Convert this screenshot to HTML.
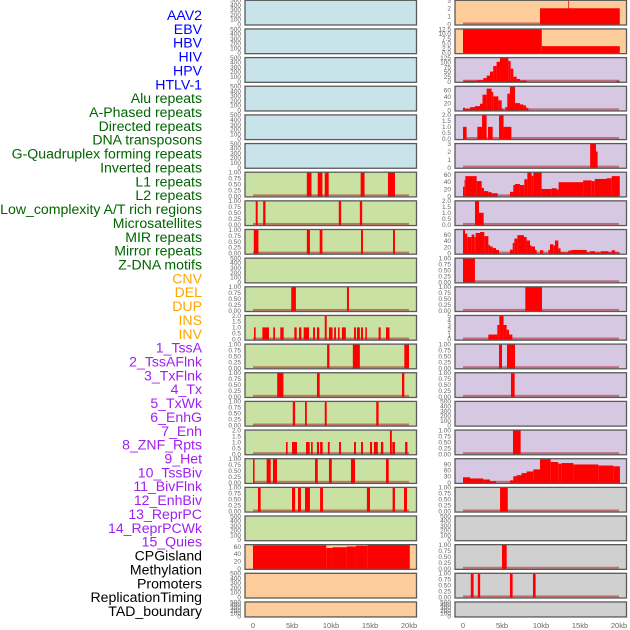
<!DOCTYPE html>
<html><head><meta charset="utf-8"><style>
html,body{margin:0;padding:0;background:#fff;}
svg{display:block;font-family:"Liberation Sans",sans-serif;}
</style></head><body>
<svg id="chart" width="630" height="630" viewBox="0 0 630 630" xmlns="http://www.w3.org/2000/svg"></svg>
<script>
// ---- labels ----
const trackLabels = ["AAV2","EBV","HBV","HIV","HPV","HTLV-1","Alu repeats","A-Phased repeats","Directed repeats","DNA transposons","G-Quadruplex forming repeats","Inverted repeats","L1 repeats","L2 repeats","Low_complexity A/T rich regions","Microsatellites","MIR repeats","Mirror repeats","Z-DNA motifs","CNV","DEL","DUP","INS","INV","1_TssA","2_TssAFlnk","3_TxFlnk","4_Tx","5_TxWk","6_EnhG","7_Enh","8_ZNF_Rpts","9_Het","10_TssBiv","11_BivFlnk","12_EnhBiv","13_ReprPC","14_ReprPCWk","15_Quies","CPGisland","Methylation","Promoters","ReplicationTiming","TAD_boundary"];
const labelColors = ["#0000ff","#0000ff","#0000ff","#0000ff","#0000ff","#0000ff","#006400","#006400","#006400","#006400","#006400","#006400","#006400","#006400","#006400","#006400","#006400","#006400","#006400","#ffa500","#ffa500","#ffa500","#ffa500","#ffa500","#a020f0","#a020f0","#a020f0","#a020f0","#a020f0","#a020f0","#a020f0","#a020f0","#a020f0","#a020f0","#a020f0","#a020f0","#a020f0","#a020f0","#a020f0","#000","#000","#000","#000","#000"];
const xTickValues = [0,5,10,15,20];
const xTickLabels = ["0","5kb","10kb","15kb","20kb"];

// ---- left column series: [startKb, endKb, value] ----
const leftL1 = [[6.9,7.5,1],[8.3,8.9,1],[9.2,9.7,1],[13.8,14.3,1],[17.3,18.2,1]];
const leftLowComplexity = [[0.35,0.6,1],[1.3,1.6,1],[11.0,11.3,1],[13.7,14.0,1]];
const leftMIR = [[0.1,0.7,1],[6.9,7.3,1],[8.55,8.9,1],[13.85,14.1,1],[17.95,18.2,1]];
const leftDEL = [[4.9,5.5,1],[12.05,12.3,1]];
const leftINS = [[0.13,0.34,1],[1.2,2.05,1],[2.6,2.82,1],[3.5,3.93,1],[5.3,5.6,1],[5.9,6.2,1],[6.5,7.18,1],[7.7,7.95,1],[8.2,8.5,1],[9.2,9.45,2],[9.74,10.2,1],[10.4,10.64,1],[10.9,11.1,1],[11.4,11.9,1],[12.95,13.2,1],[13.33,13.7,1],[13.85,14.1,1],[14.4,14.6,1],[16.1,16.37,1],[17.05,17.5,1]];
const leftTssA = [[9.5,9.8,1],[12.8,13.7,1],[19.4,20.0,1]];
const leftTxFlnk = [[3.1,3.9,1],[8.2,8.55,1],[19.1,19.4,1]];
const leftTxWk = [[5.1,5.4,1],[6.67,6.9,1],[9.2,9.45,1],[15.8,16.1,1]];
const leftEnh = [[4.23,4.44,1],[5.0,5.64,1],[6.8,7.27,1],[7.44,7.65,1],[8.2,8.46,1],[8.6,8.93,1],[9.6,9.83,1],[11.03,11.28,1],[12.95,13.2,1],[13.85,14.1,1],[15.0,15.26,1],[15.5,16.0,1],[16.4,16.7,1],[17.56,17.8,2],[17.86,18.2,1],[19.5,19.8,1]];
const leftHet = [[0,0.2,1],[1.75,2.27,1],[2.56,3.08,1],[7.95,8.3,1],[9.74,10.1,1],[12.56,13.08,1],[17.05,17.4,1]];
const leftBivFlnk = [[0.64,0.98,1],[5.0,5.4,1],[5.77,6.15,1],[6.67,7.3,1],[8.6,8.97,1],[14.6,15.0,1],[17.9,18.2,1],[19.36,19.74,1]];
const leftCpG = [[0,9.4,63],[9.4,10.2,56],[10.2,12,58],[12,13.2,60],[13.2,14.7,62],[14.7,20.1,65]];

// ---- right column series ----
const rightEBV = [[9.87,20.1,2],[13.5,13.6,3]];
const rightHIV = [[0,10.1,12.5],[10.1,20.1,3.5]];
const rightHTLV = [[0.05,1.75,4],[1.75,2.6,7],[2.6,3.03,18],[3.03,3.46,31],[3.46,3.88,52],[3.88,4.31,81],[4.31,4.74,103],[4.74,5.81,125],[5.81,6.11,107],[6.11,6.45,67],[6.45,6.88,25],[6.88,7.3,13],[7.3,8.16,5],[19.7,20.1,4]];
const rightAPhased = [[0,0.26,7],[0.26,0.9,4],[0.9,1.54,9],[1.54,2.18,12],[2.18,2.5,19],[2.5,3.03,46],[3.03,3.67,64],[3.67,3.88,54],[3.88,4.53,41],[4.53,4.96,29],[4.96,5.17,4],[5.43,5.68,9],[5.68,6.02,49],[6.02,6.67,71],[6.67,7.3,21],[7.3,7.73,17],[7.73,8.08,14],[8.08,8.38,7]];
const rightDNAtransposons = [[0,0.46,1],[1.84,2.44,1],[2.44,3.03,2],[3.2,3.8,1],[4.62,5.2,2],[5.2,6.2,1]];
const rightInverted = [[16.3,17.05,3],[17.05,17.26,2]];
const rightL2 = [[0,0.2,26],[0.2,0.3,45],[0.3,1.75,56],[1.75,2.4,42],[2.4,2.69,23],[2.69,3.25,14],[3.25,3.67,11],[3.67,4.44,8],[6.02,6.45,12],[6.45,6.67,31],[6.67,7.3,34],[7.3,7.86,31],[7.86,8.25,47],[8.25,8.8,67],[8.8,9.02,57],[9.02,10.08,67],[10.08,11.37,20],[11.37,12.0,22],[12.0,12.26,19],[12.26,15.4,39],[15.4,16.5,44],[16.5,16.9,42],[16.9,18.4,48],[18.4,19.06,50],[19.06,20.1,56]];
const rightMicrosat = [[1.54,2.05,2],[2.05,2.65,1]];
const rightMirror = [[0,0.26,76],[0.26,0.55,63],[0.55,1.11,52],[1.11,1.45,60],[1.45,1.62,52],[1.62,2.18,65],[2.18,2.73,68],[2.73,3.25,55],[3.25,3.46,27],[3.46,3.8,22],[3.8,4.23,17],[4.23,4.62,11],[6.02,6.37,12],[6.37,6.58,33],[6.58,6.97,47],[6.97,7.82,58],[7.82,8.16,52],[8.16,8.59,41],[8.59,8.8,25],[8.8,9.23,22],[9.23,9.44,11],[9.87,10.3,10],[10.94,11.15,11],[11.15,11.58,29],[11.58,11.79,25],[11.79,12.22,41],[12.22,12.51,16],[12.51,13.5,3],[13.5,13.93,9],[13.93,15.85,11],[15.85,16.28,3],[16.28,16.92,7],[16.92,17.65,3],[17.65,18.63,7],[18.63,19.06,3],[19.06,19.49,10],[19.49,20.1,3]];
const rightCNV = [[0,1.53,1]];
const rightDUP = [[7.99,10.13,1]];
const rightINV = [[3.25,4.4,1],[4.4,4.66,3],[4.66,5.2,5],[5.2,5.6,3],[5.6,5.9,2],[5.9,6.33,1]];
const rightTssAFlnk = [[4.62,5.0,1],[5.64,6.67,1]];
const rightTx = [[6.15,6.62,1]];
const rightZNF = [[6.41,7.39,1]];
const rightTssBiv = [[0,0.9,26],[0.9,2.6,20],[2.6,3.46,15],[3.46,4.23,7],[6.02,6.45,11],[6.45,6.88,31],[6.88,7.5,36],[7.5,8.15,46],[8.15,9.0,54],[9.0,9.87,64],[9.87,11.24,116],[11.24,12.2,100],[12.2,12.65,92],[12.65,14.15,95],[14.15,17.35,88],[17.35,19.27,83],[19.27,20.12,79]];
const rightEnhBiv = [[4.75,5.74,1]];
const rightMethylation = [[5.0,5.6,1]];
const rightReplication = [[1.0,1.36,1],[1.9,2.2,1],[6.02,6.36,1],[8.97,9.31,1]];
const emptySeries = [];

// ---- per-row axis maxima / tick sets ----
const tick500 = [0,100,200,300,400,500];
const tick1 = [0,0.25,0.5,0.75,1];
const tick2 = [0,0.5,1,1.5,2];
const tick60 = [0,20,40,60];
const leftSeries = [emptySeries,emptySeries,emptySeries,emptySeries,emptySeries,emptySeries,leftL1,leftLowComplexity,leftMIR,emptySeries,leftDEL,leftINS,leftTssA,leftTxFlnk,leftTxWk,leftEnh,leftHet,leftBivFlnk,emptySeries,leftCpG,emptySeries,emptySeries];
const leftMax = [500,500,500,500,500,500,1,1,1,500,1,2,1,1,1,2,1,1,500,65,500,500];
const leftTicks = [tick500,tick500,tick500,tick500,tick500,tick500,tick1,tick1,tick1,tick500,tick1,tick2,tick1,tick1,tick1,tick2,tick1,tick1,tick500,tick60,tick500,tick500];
const leftBg = ["#c8e3ea","#c8e3ea","#c8e3ea","#c8e3ea","#c8e3ea","#c8e3ea","#c9e1a3","#c9e1a3","#c9e1a3","#c9e1a3","#c9e1a3","#c9e1a3","#c9e1a3","#c9e1a3","#c9e1a3","#c9e1a3","#c9e1a3","#c9e1a3","#c9e1a3","#fdcd9c","#fdcd9c","#fdcd9c"];
const rightSeries = [rightEBV,rightHIV,rightHTLV,rightAPhased,rightDNAtransposons,rightInverted,rightL2,rightMicrosat,rightMirror,rightCNV,rightDUP,rightINV,rightTssAFlnk,rightTx,emptySeries,rightZNF,rightTssBiv,rightEnhBiv,emptySeries,rightMethylation,rightReplication,emptySeries];
const rightMax = [3,12.5,125,71,2,3,67,2,76,1,1,5,1,1,500,1,116,1,500,1,1,500];
const rightTicks = [[0,1,2,3],[0,2.5,5,7.5,10,12.5],[0,25,50,75,100,125],tick60,tick2,[0,1,2,3],tick60,tick2,tick60,tick1,tick1,[0,1,2,3,4,5],tick1,tick1,tick500,tick1,[0,30,60,90],tick1,tick500,tick1,tick1,tick500];
const rightBg = ["#fdcd9c","#fdcd9c","#d6c7e2","#d6c7e2","#d6c7e2","#d6c7e2","#d6c7e2","#d6c7e2","#d6c7e2","#d6c7e2","#d6c7e2","#d6c7e2","#d6c7e2","#d6c7e2","#d6c7e2","#d6c7e2","#d6c7e2","#d0d0d0","#d0d0d0","#d0d0d0","#d0d0d0","#d0d0d0"];

const NS = "http://www.w3.org/2000/svg";
const svg = document.getElementById("chart");
function mk(tag, attrs, parent){ const e=document.createElementNS(NS,tag); for(const k in attrs) e.setAttribute(k,attrs[k]); (parent||svg).appendChild(e); return e; }

// labels
trackLabels.forEach((t,i)=>{
  const el = mk("text",{x:202,y:15+i*13.86+5,"text-anchor":"end","font-size":"14.1",fill:labelColors[i]});
  el.textContent = t;
  
  
});

const rowTop = i => 0.3 + i*28.65;
const rowH = i => i===21 ? 15 : 24.7;
function fmt(v, ticks){
  const step = ticks[1]-ticks[0];
  if (step===0.25) return v.toFixed(2);
  if (step===0.5 || step===2.5) return v.toFixed(1);
  return String(v);
}
function drawPanel(col, i, series, ymax, ticks, bg){
  const px0 = col===0 ? 245 : 455, pw = 171.5;
  const zero = col===0 ? 253 : 463;
  const xs = kb => zero + kb*7.8;
  const top = rowTop(i), h = rowH(i);
  const g = mk("g",{});
  
  
  mk("rect",{x:px0,y:top,width:pw,height:h,fill:bg},g);
  const ys = v => top + h - 0.8 - (v/ymax)*(h-0.8);
  if (ymax !== 500 && !(col===0 && i===19)) {
    const bl = mk("rect",{x:xs(0),y:top+h-2.6,width:xs(20)-xs(0),height:2,fill:"rgba(170,20,20,0.5)"},g);
    
    
  }
  series.forEach(s=>{
    const y = ys(s[2]);
    const b = mk("rect",{x:xs(s[0]),y:y,width:Math.max(0.8,xs(s[1])-xs(s[0])),height:top+h-y,fill:"#ff0000"},g);
    
    
  });
  mk("rect",{x:px0,y:top,width:pw,height:h,fill:"none",stroke:"#5a5a5a","stroke-width":1.3},g);
  ticks.forEach(v=>{
    const t = mk("text",{x:px0-4,y:ys(v)+2.3,"text-anchor":"end","font-size":"6.5",fill:"#666"},g);
    t.textContent = fmt(v,ticks);
    
    
  });
}
for (let i=0;i<22;i++){
  drawPanel(0,i,leftSeries[i],leftMax[i],leftTicks[i],leftBg[i]);
  drawPanel(1,i,rightSeries[i],rightMax[i],rightTicks[i],rightBg[i]);
}
[253,463].forEach((zero,c)=>{
  xTickValues.forEach((v,k)=>{
    const t = mk("text",{x:zero+v*7.8,y:628,"text-anchor":"middle","font-size":"7.5",fill:"#666"});
    t.textContent = xTickLabels[k];
    
    
  });
});
</script>
</body></html>
